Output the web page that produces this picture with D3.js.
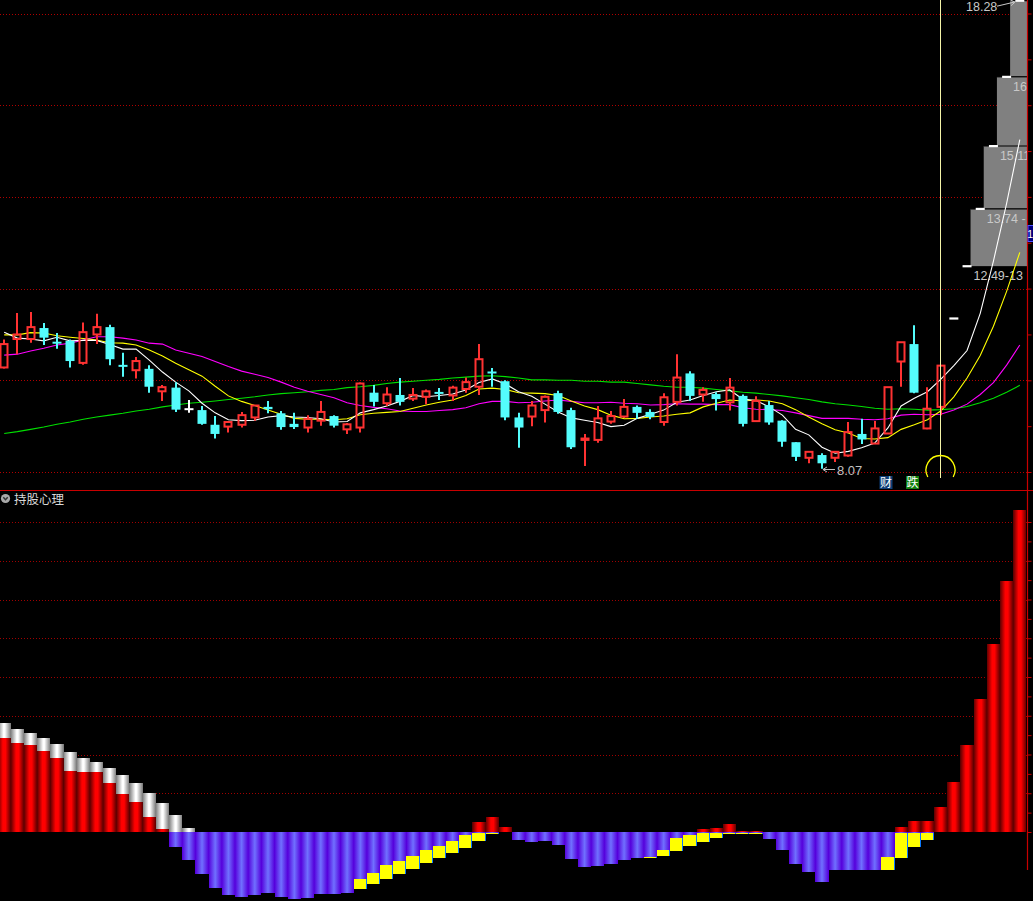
<!DOCTYPE html>
<html><head><meta charset="utf-8">
<script src="https://cdn.jsdelivr.net/npm/d3@7"></script>
<style>html,body{margin:0;padding:0;background:#000;overflow:hidden}</style>
</head><body>
<svg id="c" width="1033" height="901" style="display:block;background:#000"></svg>
<script>
// ---------- DATA ----------
const opens = [10.28,10.90,10.90,11.14,10.83,10.86,10.38,11.00,11.16,10.33,10.22,10.25,9.76,9.84,9.37,9.35,9.03,8.99,9.03,9.19,
9.42,9.28,9.05,8.97,9.12,9.22,8.93,8.97,9.73,9.50,9.68,9.60,9.64,9.74,9.67,9.81,9.86,10.18,9.98,9.19,
9.21,9.35,9.72,9.35,8.70,8.70,9.10,9.21,9.42,9.31,9.09,9.53,10.15,9.69,9.70,9.52,9.66,9.11,9.46,9.12,
8.65,8.31,8.37,8.31,8.36,8.83,8.62,8.84,10.41,10.79,8.95,9.42];
const highs = [10.89,11.47,11.49,11.25,11.03,10.89,11.26,11.45,11.21,10.60,10.51,10.33,9.90,9.96,9.57,9.44,9.22,9.11,9.31,9.46,
9.55,9.33,9.29,9.24,9.55,9.24,9.07,9.95,9.90,9.85,10.05,9.83,9.80,9.83,9.88,10.06,10.79,10.27,10.00,9.29,
9.55,9.67,9.77,9.40,8.83,9.44,9.33,9.59,9.45,9.37,9.72,10.57,10.20,9.85,9.74,10.05,9.69,9.65,9.55,9.13,
8.65,8.46,8.41,8.46,9.09,9.16,9.11,9.85,10.83,11.20,9.85,10.32];
const lows = [10.26,10.57,10.82,10.77,10.69,10.28,10.34,10.79,10.33,10.08,10.04,9.73,9.55,9.31,9.29,9.03,8.73,8.86,8.97,9.12,
9.28,8.92,8.94,8.86,9.01,8.97,8.83,8.86,9.43,9.44,9.45,9.55,9.48,9.57,9.55,9.73,9.68,9.86,9.13,8.53,
9.00,9.08,9.27,8.50,8.13,8.64,9.05,9.18,9.16,9.15,9.01,9.45,9.55,9.53,9.34,9.34,8.99,9.11,9.03,8.55,
8.24,8.19,8.07,8.22,8.33,8.61,8.62,8.84,9.86,9.72,8.93,9.24];
const closes = [10.79,11.00,11.16,10.93,10.81,10.42,11.05,11.16,10.46,10.30,10.42,9.86,9.85,9.36,9.37,9.05,8.83,9.09,9.24,9.45,
9.37,8.98,8.98,9.16,9.31,9.01,9.04,9.93,9.53,9.69,9.53,9.68,9.76,9.71,9.84,9.96,10.46,10.16,9.19,8.97,
9.45,9.64,9.31,8.54,8.73,9.17,9.22,9.42,9.29,9.20,9.63,10.06,9.66,9.79,9.59,9.84,9.05,9.55,9.08,8.66,
8.33,8.44,8.19,8.44,8.87,8.71,8.95,9.85,10.83,9.73,9.38,10.32];
// projected limit-up prices shown on the right
const projected = [11.35,12.49,13.74,15.11,16.62,18.28];
// range labels as they are visible (cut by the price axis)
const projLabels = ["12.49-13","13.74 -","15.11","16"];

const ma5 = [11.05,10.92,10.90,10.86,10.94,10.86,10.87,10.87,10.78,10.68,10.68,10.44,10.18,9.96,9.77,9.50,9.29,9.14,9.12,9.13,
9.20,9.23,9.20,9.19,9.16,9.09,9.10,9.29,9.36,9.44,9.54,9.67,9.64,9.67,9.70,9.79,9.95,10.03,9.92,9.75,
9.65,9.48,9.31,9.18,9.13,9.08,8.99,9.02,9.17,9.26,9.35,9.52,9.57,9.67,9.75,9.79,9.59,9.56,9.42,9.24,
8.93,8.81,8.54,8.41,8.45,8.53,8.63,8.96,9.44,9.61,9.75,10.02,10.32,10.65,11.46,12.60,13.86,15.25];
const ma10 = [10.99,10.99,11.04,11.03,10.97,10.94,10.91,10.88,10.82,10.81,10.77,10.66,10.53,10.37,10.23,10.09,9.87,9.66,9.54,9.45,
9.35,9.26,9.17,9.15,9.15,9.14,9.16,9.25,9.28,9.30,9.32,9.39,9.46,9.52,9.57,9.67,9.81,9.83,9.80,9.73,
9.72,9.71,9.67,9.55,9.44,9.36,9.24,9.16,9.17,9.20,9.22,9.26,9.29,9.42,9.50,9.57,9.55,9.57,9.55,9.49,
9.36,9.20,9.05,8.92,8.85,8.73,8.72,8.75,8.93,9.03,9.14,9.33,9.64,10.05,10.54,11.18,11.94,12.79];
const ma20 = [10.55,10.57,10.64,10.70,10.77,10.81,10.88,10.95,10.95,10.92,10.88,10.81,10.79,10.66,10.59,10.52,10.41,10.30,10.20,10.13,
10.06,9.96,9.85,9.76,9.69,9.62,9.51,9.45,9.41,9.38,9.33,9.32,9.32,9.34,9.36,9.40,9.49,9.54,9.54,9.51,
9.52,9.55,9.57,9.54,9.51,9.51,9.52,9.50,9.49,9.46,9.47,9.49,9.48,9.48,9.47,9.47,9.40,9.37,9.36,9.34,
9.29,9.23,9.17,9.17,9.17,9.15,9.14,9.16,9.24,9.26,9.25,9.26,9.35,9.48,9.69,9.95,10.33,10.77];
const ma60 = [8.84,8.88,8.93,8.98,9.04,9.09,9.15,9.20,9.24,9.28,9.33,9.37,9.42,9.46,9.50,9.52,9.55,9.58,9.61,9.64,
9.68,9.71,9.73,9.75,9.78,9.80,9.84,9.86,9.89,9.93,9.96,9.98,10.00,10.02,10.05,10.07,10.09,10.10,10.08,10.05,
10.01,10.01,10.00,10.00,9.98,9.98,9.96,9.96,9.93,9.90,9.87,9.85,9.85,9.83,9.80,9.77,9.74,9.72,9.69,9.66,
9.62,9.58,9.53,9.49,9.46,9.43,9.39,9.37,9.38,9.37,9.35,9.36,9.38,9.43,9.51,9.61,9.74,9.89];

const gridPrices = [8,10,12,14,16,18];
const priceTicks = [8,9,10,11,12,13,14,15,16,17,18];

// 持股心理 indicator
const redVals = [24.3,23.0,22.5,20.9,19.1,15.7,15.5,15.5,12.6,9.8,7.7,3.9,0.8,0,0,0,0,0,0,0,
0,0,0,0,0,0,0,0,0,0,0,0,0,0,0,0,2.6,3.9,1.3,0,
0,0,0,0,0,0,0,0,0,0,0,0,0,0.8,1.0,2.1,0.3,0.3,0,0,
0,0,0,0,0,0,0,0,1.3,2.8,2.8,6.5,12.9,22.5,34.3,48.5,64.8,83.1];
const whiteVals = [28.1,26.6,25.5,24.3,22.7,20.6,19.1,18.1,16.5,14.7,12.6,10.1,7.5,4.4,1.0];
const purpleVals = [0,0,0,0,0,0,0,0,0,0,0,0,0,-3.8,-7.2,-10.8,-14.5,-16.3,-16.7,-16.3,
-15.7,-16.7,-17.3,-17.0,-16.0,-16.0,-15.7,-14.7,-13.4,-12.1,-10.8,-9.5,-8.0,-6.7,-5.4,-4.1,-2.3,-0.5,0,-2.1,
-2.6,-2.3,-3.4,-7.0,-9.0,-8.8,-8.3,-7.2,-6.7,-6.7,-6.2,-4.9,-3.6,-2.6,-1.5,-0.5,-0.5,-0.5,-1.8,-4.6,
-8.3,-10.3,-12.9,-9.8,-9.8,-9.8,-9.8,-9.8,-6.7,-3.9,-2.1,0,0,0,0,0,0,0];
const yellowIdx =    [27,28,29,30,31,32,33,34,35,36,37,49,50,51,52,53,54,55,56,57,67,68,69,70];
const yellowTop =    [-12.1,-10.6,-8.5,-7.5,-6.2,-4.6,-3.6,-2.3,-0.8,-0.3,-0.3,-6.5,-4.6,-1.5,-0.8,-0.3,-0.3,-0.3,-0.3,-0.3,-6.5,-0.3,-0.3,-0.3];
const yellowBottom = [-14.7,-13.4,-12.1,-10.8,-9.5,-8.0,-6.7,-5.4,-4.1,-2.3,-0.5,-6.7,-6.2,-4.9,-3.6,-2.6,-1.5,-0.5,-0.5,-0.5,-9.8,-6.7,-3.9,-2.1];
const oscGrid = [10,20,30,40,50,60,70,80];
const oscTicks = d3.range(0,81,5);

// ---------- LAYOUT ----------
(function(){
const N = 78, NC = opens.length;
const svg = d3.select("#c");
const x = d3.scaleBand().domain(d3.range(N)).range([-2.4, 1026.4]).padding(0);
const bw = x.bandwidth();
const xc = i => x(i) + bw/2;
const yP = d3.scaleLinear().domain([8,18]).range([472,13.5]);
const yB = d3.scaleLinear().domain([0,80]).range([832,522]);
const AX = 1027.5;

const defs = svg.append("defs");
defs.append("clipPath").attr("id","clipTop").append("rect").attr("x",0).attr("y",0).attr("width",1027).attr("height",490);
defs.append("clipPath").attr("id","clipBot").append("rect").attr("x",0).attr("y",491).attr("width",1027).attr("height",410);
function grad(id, stops){
  const g = defs.append("linearGradient").attr("id",id).attr("x1","0").attr("x2","1").attr("y1","0").attr("y2","0");
  stops.forEach(s=>g.append("stop").attr("offset",s[0]).attr("stop-color",s[1]));
}
grad("gRed",[[0,"#5c0000"],[0.4,"#ff0000"],[0.6,"#ff0000"],[1,"#5c0000"]]);
grad("gWhite",[[0,"#808080"],[0.45,"#ffffff"],[0.55,"#ffffff"],[1,"#7a7a7a"]]);
grad("gPurple",[[0,"#5500dc"],[0.5,"#7070ff"],[1,"#5500dc"]]);

// ---------- TOP PANEL ----------
const gTop = svg.append("g").attr("clip-path","url(#clipTop)");
gTop.selectAll("line.grid").data(gridPrices).join("line")
  .attr("x1",0).attr("x2",1027).attr("y1",d=>Math.round(yP(d))+0.5).attr("y2",d=>Math.round(yP(d))+0.5)
  .attr("stroke","#b00000").attr("stroke-dasharray","1,2");

const levels = projected;
const projG = gTop.append("g");
for (let k=1;k<levels.length-1;k++){
  const i = NC + k;
  const y1 = yP(levels[k+1]), y0 = yP(levels[k]);
  projG.append("rect").attr("x",xc(i)+3.5).attr("y",y1).attr("width",AX-(xc(i)+3.5)).attr("height",y0-y1).attr("fill","#808080");
}
for (let k=1;k<levels.length-1;k++){
  const i = NC + k;
  const y1 = yP(levels[k+1]);
  projG.append("line").attr("x1",xc(i)+3.5).attr("x2",AX).attr("y1",y1).attr("y2",y1).attr("stroke","#000").attr("stroke-width",1.2);
}
projLabels.forEach((t,k)=>{
  const i = NC + 1 + k;
  projG.append("text").attr("x",xc(i)+6.5).attr("y",yP(levels[k+1])+14)
    .attr("fill","#c8c8c8").attr("font-family","Liberation Sans, Arial, sans-serif").attr("font-size",12.5).text(t);
});

// MA lines
const line = d3.line().x((d,i)=>xc(i)).y(d=>yP(d));
[[ma60,"#00e000"],[ma20,"#ff00ff"],[ma10,"#ffff00"],[ma5,"#ffffff"]].forEach(([d,c])=>{
  gTop.append("path").datum(d).attr("d",line).attr("fill","none").attr("stroke",c).attr("stroke-width",1.1);
});

// candles
const RED="#ff3232", CY="#54fcfc";
const cg = gTop.append("g");
for (let i=0;i<NC;i++){
  const o=opens[i], c=closes[i], h=highs[i], l=lows[i];
  const cx = Math.round(xc(i));
  const up = c>o, flat = c===o;
  const col = flat ? "#ffffff" : (up ? RED : CY);
  const yt = yP(Math.max(o,c)), yb = yP(Math.min(o,c));
  if (up){
    cg.append("line").attr("x1",cx).attr("x2",cx).attr("y1",yP(h)).attr("y2",yt).attr("stroke",col).attr("stroke-width",2);
    cg.append("line").attr("x1",cx).attr("x2",cx).attr("y1",yb).attr("y2",yP(l)).attr("stroke",col).attr("stroke-width",2);
    if (yb-yt < 3){
      cg.append("rect").attr("x",cx-4.5).attr("y",yt-1).attr("width",9).attr("height",Math.max(2,yb-yt+2)).attr("fill",col);
    } else {
      cg.append("rect").attr("x",cx-3.5).attr("y",yt).attr("width",7).attr("height",yb-yt)
        .attr("fill","none").attr("stroke",col).attr("stroke-width",2);
    }
  } else {
    cg.append("line").attr("x1",cx).attr("x2",cx).attr("y1",yP(h)).attr("y2",yP(l)).attr("stroke",col).attr("stroke-width",2);
    const hh = Math.max(2, yb-yt);
    cg.append("rect").attr("x",cx-4.5).attr("y",(yt+yb)/2-hh/2).attr("width",9).attr("height",hh).attr("fill",col);
  }
}

projected.forEach((p,k)=>{
  const i = NC + k;
  gTop.append("rect").attr("x",xc(i)-4.5).attr("y",yP(p)-1).attr("width",9).attr("height",2.2).attr("fill","#ffffff");
});

// low marker
const lowIdx = lows.indexOf(d3.min(lows));
const ly = Math.round(yP(lows[lowIdx]))+0.5;
const lx = xc(lowIdx)+1;
gTop.append("path").attr("d",`M${lx},${ly} H${lx+12} M${lx},${ly} l4,-2.5 M${lx},${ly} l4,2.5`)
  .attr("stroke","#c0c0c0").attr("stroke-width",1).attr("fill","none");
gTop.append("text").attr("x",lx+14).attr("y",ly+5.5).attr("fill","#c0c0c0")
  .attr("font-family","Liberation Sans, Arial, sans-serif").attr("font-size",13).text(d3.min(lows).toFixed(2));

// top label with arrow
const yTopL = yP(projected[5]);
gTop.append("text").attr("x",966).attr("y",yTopL+10).attr("fill","#c8c8c8")
  .attr("font-family","Liberation Sans, Arial, sans-serif").attr("font-size",12.5).text(projected[5].toFixed(2));
gTop.append("path").attr("d",`M997,${yTopL+5.5} L1014,${yTopL+1.5} M1010,${yTopL-1} L1015,${yTopL+1.5} L1011,${yTopL+5}`)
  .attr("stroke","#c8c8c8").attr("stroke-width",1).attr("fill","none");

// cursor line + arc
const curX = Math.round(xc(NC-1))-0.5;
gTop.append("line").attr("x1",curX).attr("x2",curX).attr("y1",0).attr("y2",478).attr("stroke","#f4f4a8").attr("stroke-width",1);
gTop.append("path").attr("transform",`translate(${curX},470)`)
  .attr("d",d3.arc()({innerRadius:14.5,outerRadius:14.5,startAngle:-Math.PI*0.66,endAngle:Math.PI*0.66}))
  .attr("fill","none").attr("stroke","#ffff00").attr("stroke-width",1.3);

// tags
[[879.5,"财","#0e3f78"],[906,"跌","#10800f"]].forEach(([bx,t,c])=>{
  gTop.append("rect").attr("x",bx).attr("y",476).attr("width",13).attr("height",13).attr("fill",c);
  gTop.append("text").attr("x",bx+6.5).attr("y",487).attr("text-anchor","middle").attr("fill","#fff")
    .attr("font-family","Noto Sans CJK SC, sans-serif").attr("font-size",12).text(t);
});

// axes
svg.append("line").attr("x1",0).attr("x2",1033).attr("y1",490.5).attr("y2",490.5).attr("stroke","#c80000").attr("stroke-width",1.2);
svg.append("line").attr("x1",AX).attr("x2",AX).attr("y1",0).attr("y2",870).attr("stroke","#c80000").attr("stroke-width",1.2);
const axT = svg.append("g").attr("transform",`translate(${AX},0)`)
  .call(d3.axisRight(yP).tickValues(priceTicks).tickSize(4).tickSizeOuter(0).tickFormat(""));
axT.select(".domain").remove();
axT.selectAll("line").attr("stroke","#c80000");
svg.append("rect").attr("x",1028).attr("y",225.5).attr("width",10).attr("height",16).attr("fill","#00007e").attr("stroke","#5050ff").attr("stroke-width",1);
svg.append("text").attr("x",1033).attr("y",238).attr("text-anchor","end").attr("fill","#fff").attr("font-family","Liberation Sans, Arial, sans-serif").attr("font-size",10.5).text("1");

// ---------- BOTTOM PANEL ----------
const gBot = svg.append("g").attr("clip-path","url(#clipBot)");
gBot.selectAll("line.g").data(oscGrid).join("line")
  .attr("x1",0).attr("x2",1027).attr("y1",d=>Math.round(yB(d))+0.5).attr("y2",d=>Math.round(yB(d))+0.5)
  .attr("stroke","#a00000").attr("stroke-dasharray","1,2");
const bars = gBot.append("g").attr("shape-rendering","crispEdges");
for (let i=0;i<N;i++){
  const r = redVals[i]||0, p = purpleVals[i]||0, w = whiteVals[i];
  if (p<0) bars.append("rect").attr("x",x(i)).attr("y",yB(0)).attr("width",bw).attr("height",yB(p)-yB(0)).attr("fill","url(#gPurple)");
  if (r>0) bars.append("rect").attr("x",x(i)).attr("y",yB(r)).attr("width",bw).attr("height",Math.max(1,yB(0)-yB(r))).attr("fill","url(#gRed)");
  if (w!==undefined) bars.append("rect").attr("x",x(i)).attr("y",yB(w)).attr("width",bw).attr("height",yB(r)-yB(w)).attr("fill","url(#gWhite)");
}
yellowIdx.forEach((i,k)=>{
  const y0 = yB(yellowTop[k]), y1 = yB(yellowBottom[k]);
  bars.append("rect").attr("x",x(i)).attr("y",y0).attr("width",bw-1).attr("height",Math.max(1,y1-y0)).attr("fill","#ffff00");
  bars.append("rect").attr("x",x(i)+bw-1).attr("y",y0).attr("width",1).attr("height",Math.max(1,y1-y0)).attr("fill","#0a78ff");
});
const axB = svg.append("g").attr("transform",`translate(${AX},0)`)
  .call(d3.axisRight(yB).tickValues(oscTicks).tickSize(4).tickSizeOuter(0).tickFormat(""));
axB.select(".domain").remove();
axB.selectAll("line").attr("stroke","#c80000");

// title
svg.append("circle").attr("cx",5.5).attr("cy",498.5).attr("r",4.6).attr("fill","#a8a8a8");
svg.append("path").attr("d","M3.3,497.3 L5.5,499.8 L7.7,497.3").attr("stroke","#303030").attr("stroke-width",1.4).attr("fill","none");
svg.append("text").attr("x",14).attr("y",503.5).attr("fill","#d8d8d8")
  .attr("font-family","Noto Sans CJK SC, sans-serif").attr("font-size",12.5).text("持股心理");
})();
</script>
</body></html>
